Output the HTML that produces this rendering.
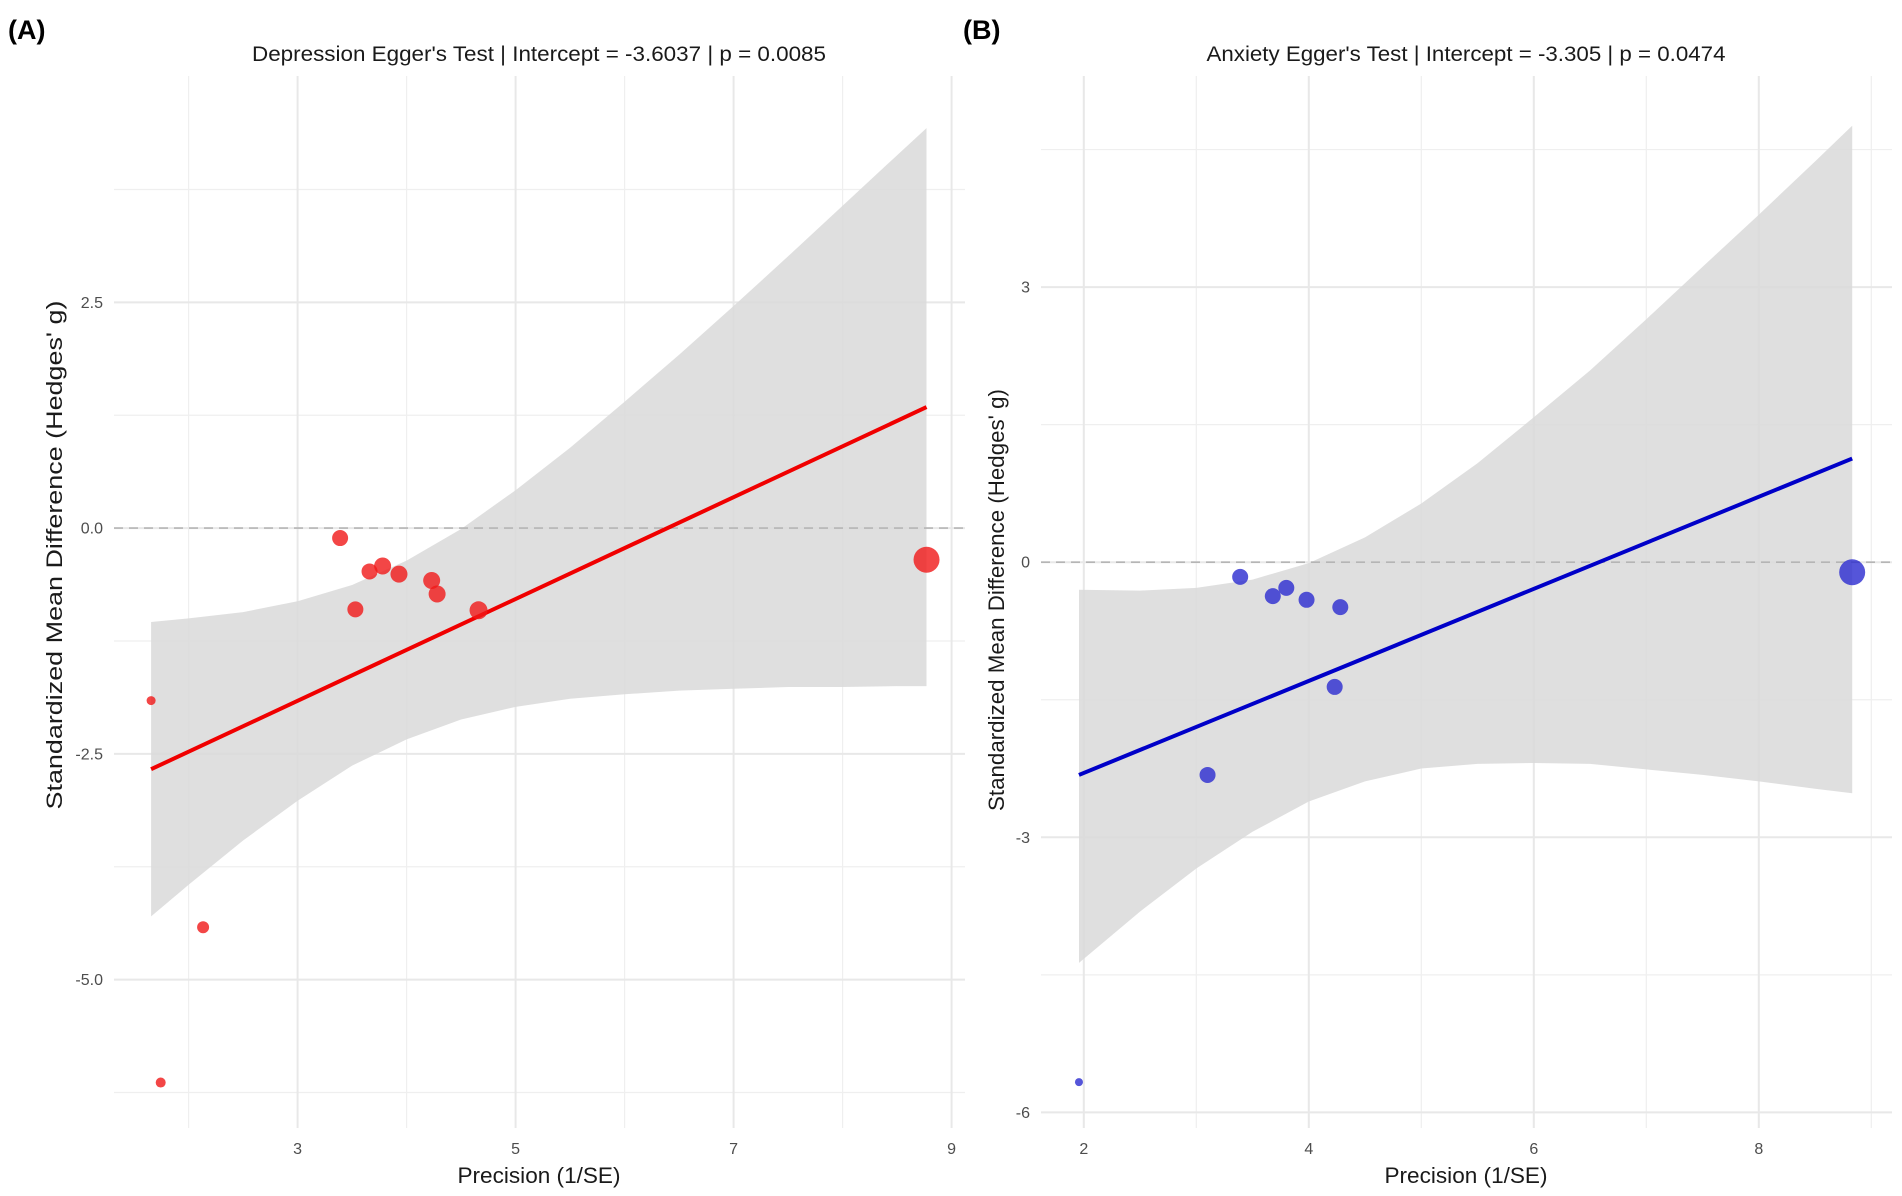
<!DOCTYPE html>
<html><head><meta charset="utf-8"><style>
html,body{margin:0;padding:0;background:#fff;}
svg{display:block;font-family:"Liberation Sans",sans-serif;}
</style></head><body>
<svg id="chart" width="1902" height="1196" viewBox="0 0 1902 1196">
<text x="8" y="39" font-size="27" font-weight="bold" fill="#000">(A)</text>
<text x="963" y="39" font-size="27" font-weight="bold" fill="#000">(B)</text>
<g id="pa"></g>
<g id="pb"></g>
</svg>
<script>
// Panel A data (Depression)
const aPrecision = [1.656, 1.744, 2.133, 3.39, 3.53, 3.66, 3.78, 3.93, 4.23, 4.28, 4.66, 8.77];
const aSMD = [-1.91, -6.14, -4.42, -0.11, -0.90, -0.48, -0.42, -0.51, -0.58, -0.73, -0.91, -0.35];
const aWeight = [4.5, 5, 6, 8, 8, 8, 8.5, 8.5, 8.5, 8.5, 9, 13];
const aFitX = [1.656, 8.77];
const aFitY = [-2.67, 1.34];
const aBandX = [1.656, 2, 2.5, 3, 3.5, 4, 4.5, 5, 5.5, 6, 6.5, 7, 7.5, 8, 8.5, 8.77];
const aBandUpper = [-1.04, -1.00, -0.93, -0.81, -0.63, -0.36, -0.01, 0.42, 0.89, 1.40, 1.92, 2.46, 3.01, 3.57, 4.13, 4.43];
const aBandLower = [-4.30, -3.95, -3.46, -3.02, -2.63, -2.34, -2.12, -1.98, -1.89, -1.84, -1.80, -1.78, -1.76, -1.76, -1.75, -1.75];
const aXTicks = [3, 5, 7, 9];
const aXTickLabels = ["3", "5", "7", "9"];
const aXMinor = [2, 4, 6, 8];
const aYTicks = [2.5, 0, -2.5, -5];
const aYTickLabels = ["2.5", "0.0", "-2.5", "-5.0"];
const aYMinor = [3.75, 1.25, -1.25, -3.75, -6.25];

// Panel B data (Anxiety)
const bPrecision = [1.957, 3.10, 3.39, 3.68, 3.80, 3.98, 4.28, 4.23, 8.83];
const bSMD = [-5.67, -2.32, -0.16, -0.37, -0.28, -0.41, -0.49, -1.36, -0.11];
const bWeight = [4, 8, 8, 8, 8, 8, 8, 8, 13];
const bFitX = [1.957, 8.83];
const bFitY = [-2.32, 1.13];
const bBandX = [1.957, 2.5, 3, 3.5, 4, 4.5, 5, 5.5, 6, 6.5, 7, 7.5, 8, 8.5, 8.83];
const bBandUpper = [-0.30, -0.31, -0.28, -0.19, -0.01, 0.27, 0.64, 1.08, 1.58, 2.09, 2.65, 3.22, 3.79, 4.37, 4.76];
const bBandLower = [-4.37, -3.81, -3.34, -2.94, -2.61, -2.39, -2.25, -2.20, -2.19, -2.20, -2.26, -2.32, -2.39, -2.47, -2.52];
const bXTicks = [2, 4, 6, 8];
const bXTickLabels = ["2", "4", "6", "8"];
const bXMinor = [3, 5, 7, 9];
const bYTicks = [3, 0, -3, -6];
const bYTickLabels = ["3", "0", "-3", "-6"];
const bYMinor = [4.5, 1.5, -1.5, -4.5];

const NS = "http://www.w3.org/2000/svg";
function mk(parent, tag, attrs) {
  const e = document.createElementNS(NS, tag);
  for (const k in attrs) e.setAttribute(k, attrs[k]);
  parent.appendChild(e);
  return e;
}

function drawPanel(g, cfg) {
  const sx = v => cfg.x0px + (v - cfg.x0) * cfg.xu;
  const sy = v => cfg.y0px - v * cfg.yu;
  cfg.xMinor.forEach(v => {
    const l = mk(g, "line", {x1: sx(v), x2: sx(v), y1: cfg.top, y2: cfg.bottom, stroke: "#efefef", "stroke-width": 1.2});
    
    
  });
  cfg.yMinor.forEach(v => {
    const l = mk(g, "line", {x1: cfg.left, x2: cfg.right, y1: sy(v), y2: sy(v), stroke: "#efefef", "stroke-width": 1.2});
    
    
  });
  cfg.xTicks.forEach((v, i) => {
    const l = mk(g, "line", {x1: sx(v), x2: sx(v), y1: cfg.top, y2: cfg.bottom, stroke: "#e8e8e8", "stroke-width": 2});
    
    
    const t = mk(g, "text", {x: sx(v), y: 1154, "font-size": 16, fill: "#4d4d4d", "text-anchor": "middle"});
    t.textContent = cfg.xTickLabels[i];
    
    
  });
  cfg.yTicks.forEach((v, i) => {
    const l = mk(g, "line", {x1: cfg.left, x2: cfg.right, y1: sy(v), y2: sy(v), stroke: "#e8e8e8", "stroke-width": 2});
    
    
    const t = mk(g, "text", {x: cfg.left - 11, y: sy(v) + 5.5, "font-size": 16, fill: "#4d4d4d", "text-anchor": "end"});
    t.textContent = cfg.yTickLabels[i];
    
    
  });
  let d = "";
  cfg.bandX.forEach((v, i) => { d += (i ? "L" : "M") + sx(v).toFixed(1) + " " + sy(cfg.bandU[i]).toFixed(1); });
  for (let i = cfg.bandX.length - 1; i >= 0; i--) d += "L" + sx(cfg.bandX[i]).toFixed(1) + " " + sy(cfg.bandL[i]).toFixed(1);
  d += "Z";
  const band = mk(g, "path", {d: d, fill: "#d9d9d9", "fill-opacity": 0.85});
  
  
  const z = mk(g, "line", {x1: cfg.left, x2: cfg.right, y1: sy(0), y2: sy(0), stroke: "#b5b5b5", "stroke-width": 1.6, "stroke-dasharray": "9 6"});
  
  
  const fl = mk(g, "line", {x1: sx(cfg.fitX[0]), y1: sy(cfg.fitY[0]), x2: sx(cfg.fitX[1]), y2: sy(cfg.fitY[1]), stroke: cfg.lineColor, "stroke-width": 4});
  
  
  cfg.px.forEach((v, i) => {
    const c = mk(g, "circle", {cx: sx(v), cy: sy(cfg.py[i]), r: cfg.pw[i], fill: cfg.ptColor, "fill-opacity": 0.8});
    
    
  });
  const tt = mk(g, "text", {x: cfg.titleX, y: 61, "font-size": 21, fill: "#1a1a1a", "text-anchor": "middle", textLength: cfg.titleLen, lengthAdjust: "spacingAndGlyphs"});
  tt.textContent = cfg.title;
  
  
  const xt = mk(g, "text", {x: cfg.xTitleX, y: 1183, "font-size": 22, fill: "#1a1a1a", "text-anchor": "middle", textLength: 163, lengthAdjust: "spacingAndGlyphs"});
  xt.textContent = "Precision (1/SE)";
  
  
  const yt = mk(g, "text", {x: 0, y: 0, "font-size": 22, fill: "#1a1a1a", "text-anchor": "middle", textLength: cfg.yTitleLen, lengthAdjust: "spacingAndGlyphs", transform: "translate(" + cfg.yTitleX + "," + cfg.yTitleY + ") rotate(-90)"});
  yt.textContent = "Standardized Mean Difference (Hedges' g)";
  
  
}

drawPanel(document.getElementById("pa"), {
  x0: 3, x0px: 297.6, xu: 109, y0px: 528.1, yu: 90.3,
  left: 114, right: 965, top: 76, bottom: 1128,
  xTicks: aXTicks, xTickLabels: aXTickLabels, xMinor: aXMinor,
  yTicks: aYTicks, yTickLabels: aYTickLabels, yMinor: aYMinor,
  bandX: aBandX, bandU: aBandUpper, bandL: aBandLower,
  fitX: aFitX, fitY: aFitY, px: aPrecision, py: aSMD, pw: aWeight,
  lineColor: "#f00000", ptColor: "#f01818",
  title: "Depression Egger's Test | Intercept = -3.6037 | p = 0.0085",
  titleX: 539, titleLen: 574, xTitleX: 539, yTitleX: 62, yTitleY: 555, yTitleLen: 509
});
drawPanel(document.getElementById("pb"), {
  x0: 2, x0px: 1083.8, xu: 112.5, y0px: 562.2, yu: 91.7,
  left: 1041, right: 1892, top: 76, bottom: 1128,
  xTicks: bXTicks, xTickLabels: bXTickLabels, xMinor: bXMinor,
  yTicks: bYTicks, yTickLabels: bYTickLabels, yMinor: bYMinor,
  bandX: bBandX, bandU: bBandUpper, bandL: bBandLower,
  fitX: bFitX, fitY: bFitY, px: bPrecision, py: bSMD, pw: bWeight,
  lineColor: "#0000c8", ptColor: "#2b2bd0",
  title: "Anxiety Egger's Test | Intercept = -3.305 | p = 0.0474",
  titleX: 1466, titleLen: 519, xTitleX: 1466, yTitleX: 1004, yTitleY: 600, yTitleLen: 422
});
</script>
</body></html>
